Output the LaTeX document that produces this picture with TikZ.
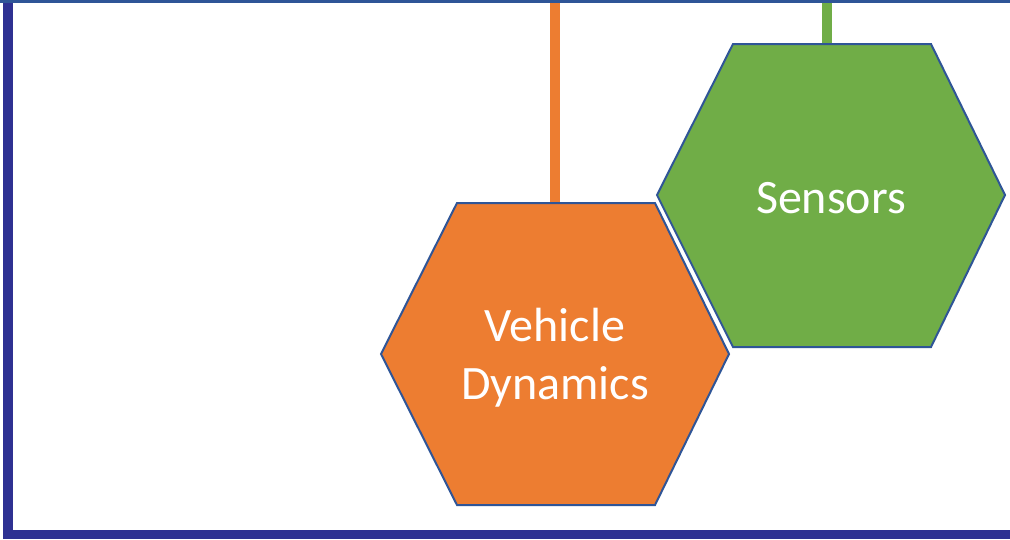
\documentclass[tikz,border=0pt]{standalone}
\usepackage{fontspec}
\setmainfont{Carlito}
\definecolor{frameblue}{HTML}{2E3192}
\definecolor{topblue}{HTML}{2F5597}
\definecolor{outl}{HTML}{2F5597}
\definecolor{orng}{HTML}{ED7D31}
\definecolor{grn}{HTML}{70AD47}
\begin{document}
\begin{tikzpicture}[x=1pt,y=-1pt,
  hexa/.style={draw=outl,line width=2pt,line join=miter},
  lbl/.style={text=white,font=\fontsize{48}{58}\selectfont,align=center,inner sep=0pt},
  stem/.style={line width=10pt}]
\useasboundingbox (0,0) rectangle (1010,539);
\fill[white] (0,0) rectangle (1010,539);
% stems
\coordinate (otop) at (555,0);
\coordinate (gtop) at (827,0);
% hexagons
\coordinate (o1) at (381,354);
\coordinate (o2) at (457,203);
\coordinate (o3) at (655,203);
\coordinate (o4) at (729,354);
\coordinate (o5) at (655,505);
\coordinate (o6) at (457,505);
\coordinate (g1) at (657,195);
\coordinate (g2) at (733,44);
\coordinate (g3) at (931,44);
\coordinate (g4) at (1005,195);
\coordinate (g5) at (931,347);
\coordinate (g6) at (733,347);
\coordinate (obase) at (555,203);
\coordinate (gbase) at (827,44);
\draw[stem,draw=orng] (otop) -- (obase);
\draw[stem,draw=grn] (gtop) -- (gbase);
\draw[hexa,fill=orng] (o1) -- (o2) -- (o3) -- (o4) -- (o5) -- (o6) -- cycle;
\draw[hexa,fill=grn] (g1) -- (g2) -- (g3) -- (g4) -- (g5) -- (g6) -- cycle;
\node[lbl] (vd) at (555,358) {Vehicle\\Dynamics};
\node[lbl] (sn) at (831,198) {Sensors};
% frame
\fill[topblue] (0,0) rectangle (1010,3);
\fill[frameblue] (3,3) rectangle (13,539);
\fill[frameblue] (3,530) rectangle (1010,539);
\end{tikzpicture}
\end{document}
